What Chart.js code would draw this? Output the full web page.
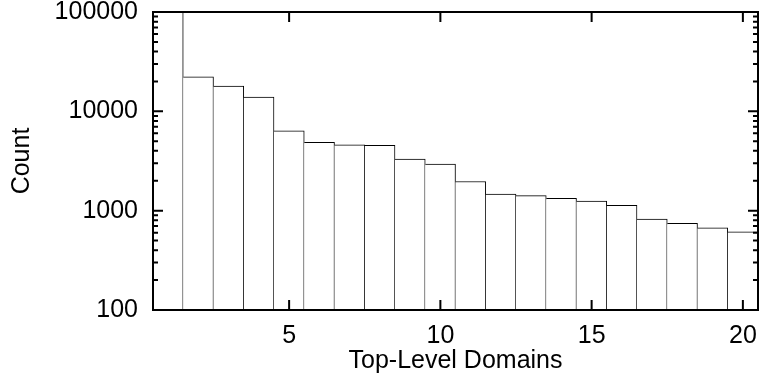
<!DOCTYPE html>
<html>
<head>
<meta charset="utf-8">
<title>Top-Level Domains</title>
<script src="https://cdn.jsdelivr.net/npm/chart.js@4/dist/chart.umd.min.js"></script>
<style>
    html, body { margin: 0; padding: 0; background: #fff; }
    #wrap { width: 760px; height: 381px; }
</style>
</head>
<body>
<div id="wrap"><canvas id="chart"></canvas></div>
<script>
// rank of the domain and how many times it shows up
const domains = [1, 2, 3, 4, 5, 6, 7, 8, 9, 10, 11, 12, 13, 14, 15, 16, 17, 18, 19, 20];
const counts = [210000, 22300, 18000, 13900, 6380, 4880, 4610, 4550, 3310, 2950,
                1965, 1470, 1415, 1331, 1250, 1132, 824, 746, 673, 614];

const xTickLabels = [5, 10, 15, 20];
const yTickLabels = [100, 1000, 10000, 100000];

const fontFamily = '"Liberation Sans", Arial, sans-serif';
const fontSize = 25;

// gnuplot style frame: box all round, ticks pointing inwards, mirrored
const frameTicks = {
    id: 'frameTicks',
    afterDraw(chart) {
        const ctx = chart.ctx;
        const a = chart.chartArea;
        const x = chart.scales.x;
        const y = chart.scales.y;
        ctx.save();
        ctx.strokeStyle = '#000';
        ctx.lineWidth = 2;
        ctx.beginPath();
        xTickLabels.forEach(v => {
            let px = x.getPixelForValue(domains.indexOf(v));
            ctx.moveTo(px, a.bottom); ctx.lineTo(px, a.bottom - 10);
            ctx.moveTo(px, a.top); ctx.lineTo(px, a.top + 10);
        });
        for (let i = 0; i < yTickLabels.length; i++) {
            let decade = yTickLabels[i];
            let py = y.getPixelForValue(decade);
            ctx.moveTo(a.left, py); ctx.lineTo(a.left + 10, py);
            ctx.moveTo(a.right, py); ctx.lineTo(a.right - 10, py);
            if (i === yTickLabels.length - 1) break;
            for (let m = 2; m < 10; m++) {
                py = y.getPixelForValue(decade * m);
                ctx.moveTo(a.left, py); ctx.lineTo(a.left + 5, py);
                ctx.moveTo(a.right, py); ctx.lineTo(a.right - 5, py);
            }
        }
        ctx.stroke();
        ctx.strokeRect(a.left, a.top, a.width, a.height);
        ctx.restore();
    }
};

const data = {
    labels: domains,
    datasets: [{
        label: 'Count',
        data: counts,
        backgroundColor: '#fff',
        borderColor: '#000',
        borderWidth: {top: 1, right: 1, bottom: 0, left: 0},
        borderSkipped: false,
        categoryPercentage: 1.0,
        barPercentage: 1.0,
    }]
};

const config = {
    type: 'bar',
    data: data,
    options: {
        responsive: true,
        maintainAspectRatio: false,
        animation: false,
        devicePixelRatio: 1,
        layout: { padding: { top: 12, right: 2, left: 0, bottom: 0 } },
        plugins: {
            legend: { display: false },
            tooltip: { enabled: false }
        },
        scales: {
            x: {
                grid: { display: false, drawTicks: false },
                border: { display: false },
                ticks: {
                    autoSkip: false,
                    maxRotation: 0,
                    padding: 11,
                    color: '#000',
                    font: { family: fontFamily, size: fontSize },
                    callback: function (value, index) {
                        let d = domains[index];
                        return xTickLabels.includes(d) ? String(d) : '';
                    }
                },
                title: {
                    display: true,
                    text: 'Top-Level Domains',
                    color: '#000',
                    font: { family: fontFamily, size: fontSize },
                    padding: { top: 0, bottom: 5 }
                },
                afterFit(scale) {
                    scale.height = 71;
                    scale.paddingLeft = 0;
                    scale.paddingRight = 0;
                }
            },
            y: {
                type: 'logarithmic',
                min: 100,
                max: 100000,
                grid: { display: false, drawTicks: false },
                border: { display: false },
                ticks: {
                    autoSkip: false,
                    padding: 15,
                    color: '#000',
                    font: { family: fontFamily, size: fontSize },
                    callback: function (value) {
                        return yTickLabels.includes(value) ? String(value) : '';
                    }
                },
                title: {
                    display: true,
                    text: 'Count',
                    color: '#000',
                    font: { family: fontFamily, size: fontSize },
                    padding: { top: 7, bottom: 0 }
                },
                afterFit(scale) {
                    scale.width = 153;
                    scale.paddingTop = 0;
                    scale.paddingBottom = 0;
                }
            }
        }
    },
    plugins: [frameTicks]
};

const countChart = new Chart(document.getElementById('chart'), config);
</script>
</body>
</html>
